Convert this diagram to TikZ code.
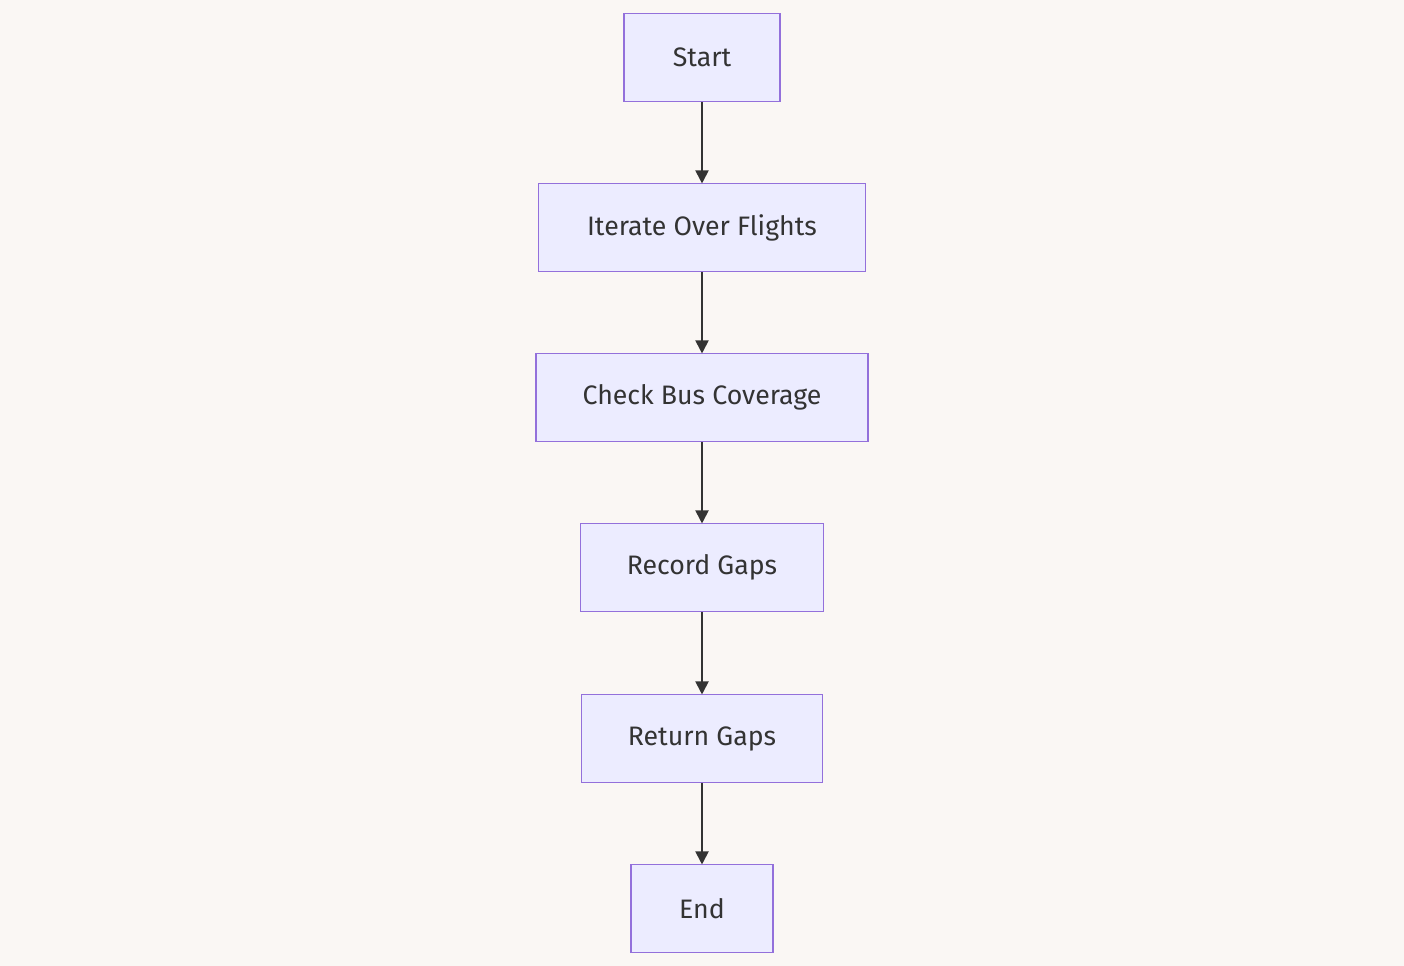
\documentclass[tikz,border=0pt]{standalone}
\usepackage{fontspec}
\setmainfont{Fira Sans}
\usetikzlibrary{arrows.meta}
\definecolor{bgcol}{HTML}{FAF7F4}
\definecolor{boxfill}{HTML}{ECECFF}
\definecolor{boxline}{HTML}{9370DB}
\definecolor{inkcol}{HTML}{333333}
\tikzset{
  flowbox/.style={draw=boxline, fill=boxfill, line width=0.85pt,
    minimum height=1.76cm, text=inkcol, font=\fontsize{15.2}{18}\selectfont},
  flowarrow/.style={draw=inkcol, line width=1.1pt, shorten >=-0.4pt,
    -{Triangle[length=0.26cm, width=0.26cm]}}
}
\begin{document}
\begin{tikzpicture}
    \fill[bgcol] (0, 0) rectangle (28.08, -19.32);
    \useasboundingbox (0, 0) rectangle (28.08, -19.32);
    \node[flowbox, minimum width=3.12cm] (start) at (14.04, -1.15) {Start};
    \node[flowbox, minimum width=6.54cm] (iterate) at (14.04, -4.55) {Iterate Over Flights};
    \node[flowbox, minimum width=6.64cm] (check) at (14.04, -7.95) {Check Bus Coverage};
    \node[flowbox, minimum width=4.86cm] (record) at (14.04, -11.35) {Record Gaps};
    \node[flowbox, minimum width=4.82cm] (return) at (14.04, -14.77) {Return Gaps};
    \node[flowbox, minimum width=2.84cm] (end) at (14.04, -18.17) {End};
    \draw[flowarrow] (start) -- (iterate);
    \draw[flowarrow] (iterate) -- (check);
    \draw[flowarrow] (check) -- (record);
    \draw[flowarrow] (record) -- (return);
    \draw[flowarrow] (return) -- (end);
  \end{tikzpicture}
\end{document}
